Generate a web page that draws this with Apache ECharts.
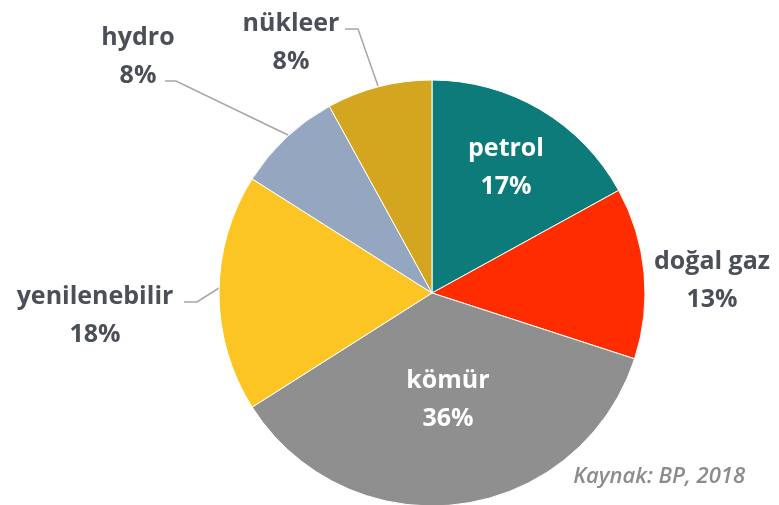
<!DOCTYPE html>
<html lang="tr">
<head>
  <meta charset="UTF-8">
  <title>Enerji kaynakları</title>
  <style>
    html, body{margin: 0; padding: 0; background: #fff}
    #chart{width: 779px; height: 505px}
  </style>
  <script src="https://cdn.jsdelivr.net/npm/echarts@6/dist/echarts.min.js"></script>
</head>
<body>
  <div id="chart"></div>
  <script>
    // veri
    const names = ['petrol', 'doğal gaz', 'kömür', 'yenilenebilir', 'hydro', 'nükleer'];
    const values = [17, 13, 36, 18, 8, 8];
    const colors = ['#0d7b7a', '#ff2c00', '#8f8f8f', '#fdc524', '#94a6c0', '#d4a51e'];
    const source = 'Kaynak: BP, 2018';

    // label centres and leader lines (layout only)
    const spots = {
      'petrol': {x: 506, y: 168, inside: true},
      'doğal gaz': {x: 712, y: 281},
      'kömür': {x: 448, y: 400, inside: true},
      'yenilenebilir': {x: 95, y: 316, line: [[219, 288], [197, 302], [184, 302]]},
      'hydro': {x: 138, y: 57, line: [[288, 135], [176, 81], [165, 81]]},
      'nükleer': {x: 291, y: 43, line: [[378, 86], [358, 29], [345, 29]]}
    };

    const chart = echarts.init(document.getElementById('chart'));
    chart.setOption({
      animation: false,
      color: colors,
      series: [{
        type: 'pie',
        center: [432, 293],
        radius: 213,
        startAngle: 90,
        clockwise: true,
        itemStyle: {borderColor: '#fff', borderWidth: 1},
        label: {
          show: true,
          position: 'outside',
          formatter: '{b}\n{c}%',
          fontFamily: 'Open Sans',
          fontWeight: 'bold',
          fontSize: 25,
          lineHeight: 38,
          color: '#4a4f58',
          align: 'center',
          overflow: 'none'
        },
        labelLine: {show: true, lineStyle: {color: '#a6a6a6', width: 1.5}},
        labelLayout: function(p){
          const s = spots[names[p.dataIndex]];
          const out = {x: s.x, y: s.y, align: 'center', verticalAlign: 'middle'};
          if (s.line) out.labelLinePoints = s.line;
          return out;
        },
        data: names.map((n, i) => {
          const s = spots[n];
          return {
            name: n,
            value: values[i],
            label: s.inside ? {color: '#fff'} : {},
            labelLine: {show: !!s.line}
          };
        })
      }],
      graphic: [{
        type: 'text',
        right: 34,
        top: 466,
        style: {
          text: source,
          font: 'italic 600 22px "Open Sans"',
          fill: '#8c8c8c'
        }
      }]
    });
  </script>
</body>
</html>
